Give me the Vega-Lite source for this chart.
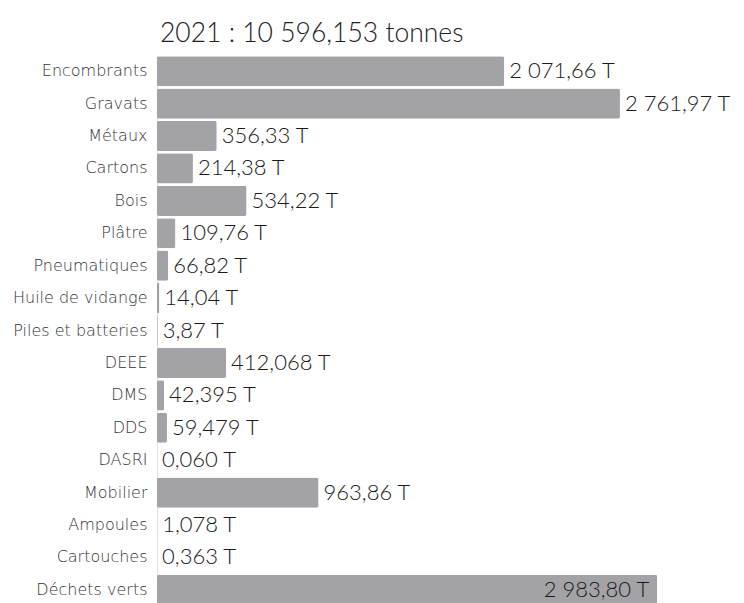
{
  "$schema": "https://vega.github.io/schema/vega-lite/v6.json",
  "autosize": "none",
  "padding": {"left": 157, "top": 55, "right": 0, "bottom": 0},
  "width": 587,
  "height": 551,
  "background": "white",
  "title": {"text": "2021 : 10 596,153 tonnes", "anchor": "start", "frame": "group", "baseline": "alphabetic", "font": "Lato", "fontSize": 26.5, "fontWeight": 300, "color": "#222", "offset": -13, "dx": 3},
  "config": {"view": {"stroke": null}, "font": "Lato"},
  "data": {"values": [
    {"cat": "Encombrants", "t": 2071.66, "lab": "2 071,66 T", "inside": false},
    {"cat": "Gravats", "t": 2761.97, "lab": "2 761,97 T", "inside": false},
    {"cat": "Métaux", "t": 356.33, "lab": "356,33 T", "inside": false},
    {"cat": "Cartons", "t": 214.38, "lab": "214,38 T", "inside": false},
    {"cat": "Bois", "t": 534.22, "lab": "534,22 T", "inside": false},
    {"cat": "Plâtre", "t": 109.76, "lab": "109,76 T", "inside": false},
    {"cat": "Pneumatiques", "t": 66.82, "lab": "66,82 T", "inside": false},
    {"cat": "Huile de vidange", "t": 14.04, "lab": "14,04 T", "inside": false},
    {"cat": "Piles et batteries", "t": 3.87, "lab": "3,87 T", "inside": false},
    {"cat": "DEEE", "t": 412.068, "lab": "412,068 T", "inside": false},
    {"cat": "DMS", "t": 42.395, "lab": "42,395 T", "inside": false},
    {"cat": "DDS", "t": 59.479, "lab": "59,479 T", "inside": false},
    {"cat": "DASRI", "t": 0.06, "lab": "0,060 T", "inside": false},
    {"cat": "Mobilier", "t": 963.86, "lab": "963,86 T", "inside": false},
    {"cat": "Ampoules", "t": 1.078, "lab": "1,078 T", "inside": false},
    {"cat": "Cartouches", "t": 0.363, "lab": "0,363 T", "inside": false},
    {"cat": "Déchets verts", "t": 2983.8, "lab": "2 983,80 T", "inside": true}
  ]},
  "encoding": {
    "y": {"field": "cat", "type": "nominal", "sort": null,
      "scale": {"paddingInner": 0.07, "paddingOuter": 0.035},
      "axis": {"title": null, "ticks": false, "domain": true, "domainColor": "#e2e2e2", "labelFont": "DejaVu Sans", "labelFontSize": 16, "labelFontWeight": 300, "labelColor": "#333", "labelPadding": 10}},
    "x": {"field": "t", "type": "quantitative", "scale": {"domain": [0, 3502], "nice": false}, "axis": null}
  },
  "layer": [
    {"mark": {"type": "bar", "color": "#a3a3a7", "cornerRadius": 2}},
    {"transform": [{"filter": "!datum.inside"}],
     "mark": {"type": "text", "align": "left", "dx": 5, "fontSize": 22, "font": "Lato", "fontWeight": 300, "color": "#1a1a1a"},
     "encoding": {"text": {"field": "lab"}}},
    {"transform": [{"filter": "datum.inside"}],
     "mark": {"type": "text", "align": "right", "dx": -8, "fontSize": 22, "font": "Lato", "fontWeight": 300, "color": "#1a1a1a"},
     "encoding": {"text": {"field": "lab"}}}
  ]
}
